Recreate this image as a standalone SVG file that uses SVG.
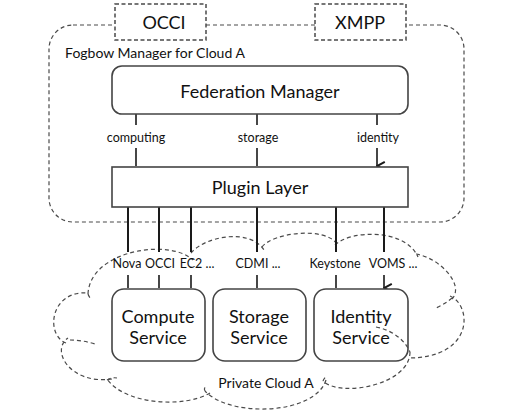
<svg xmlns="http://www.w3.org/2000/svg" width="508" height="418" viewBox="0 0 508 418">
<defs>
<style>
.dash{fill:none;stroke:#4a4a4a;stroke-width:1.2;stroke-dasharray:4 3}
.dbox{fill:#fff;stroke:#4a4a4a;stroke-width:1.5;stroke-dasharray:4 2.5}
.box{fill:#fff;stroke:#444;stroke-width:1.6}
.cn{fill:none;stroke:#1a1a1a;stroke-width:1.6}
.cw{fill:none;stroke:#1a1a1a;stroke-width:2}
text{font-family:Lato,"Open Sans","Liberation Sans",sans-serif;fill:#111;text-anchor:middle}
.big{font-size:18px}
.mid{font-size:14px}
.sm{font-size:12.5px}
</style>
<marker id="ah" markerWidth="12" markerHeight="12" refX="5" refY="9" orient="auto-start-reverse" markerUnits="userSpaceOnUse" viewBox="0 0 10 10">
<path d="M1.5,2.5 L5,9 L8.5,2.5" fill="none" stroke="#1a1a1a" stroke-width="1.7"/>
</marker>
</defs>
<rect width="508" height="418" fill="#fff"/>

<g id="cloud">
<path class="dash" d="M88,294 C90,250 170,238 193,260 M191,253 C205,236 250,228 264,250 M262,247 C272,233 325,226 337,244 M335,245 C350,230 405,228 418,257 M416,254 C440,258 465,285 452,299 M450,296 C472,305 475,358 408,358 M410,352 C410,385 340,398 323,381 M326,380 C315,415 230,418 205,391 M210,393 C185,408 125,405 107,379 M112,379 C70,385 50,350 68,338 M66,343 C45,335 50,290 88,293"/>
<path class="dash" d="M70,340 Q82,340 95,344 M452,298 Q445,304 436,308 M107,380 Q112,377 117,378 M205,391 Q203,388 207,386 M88,294 Q89,297 91,299 M323,381 Q324,378 327,376"/>
</g>

<g id="fogbow">
<rect class="dash" x="49" y="25" width="415" height="197" rx="24"/>
<text class="mid" x="155" y="58">Fogbow Manager for Cloud A</text>
</g>

<g id="occi">
<rect class="dbox" x="115" y="4" width="91" height="36"/>
<text class="big" x="164" y="29">OCCI</text>
</g>
<g id="xmpp">
<rect class="dbox" x="315" y="4" width="91" height="36"/>
<text class="big" x="360" y="29">XMPP</text>
</g>

<g id="connectors">
<path class="cn" d="M136,114 V125 M257,114 V125 M377,114 V125"/>
<path class="cn" d="M136,148 V166 M257,148 V166 M377,148 V166" marker-end="url(#ah)"/>
<path class="cw" d="M128,207 V252 M159,207 V252 M191,207 V252 M257,207 V252 M336,207 V252 M384,207 V252"/>
<path class="cn" d="M128,275 V288 M159,275 V288 M191,275 V288 M257,275 V288 M336,275 V288 M384,275 V288" marker-end="url(#ah)"/>
<text class="sm" x="136" y="142">computing</text>
<text class="sm" x="258" y="142">storage</text>
<text class="sm" x="378" y="142">identity</text>
<text class="sm" x="127" y="268">Nova</text>
<text class="sm" x="160" y="268">OCCI</text>
<text class="sm" x="197" y="268">EC2 ...</text>
<text class="sm" x="258" y="268">CDMI ...</text>
<text class="sm" x="335" y="268">Keystone</text>
<text class="sm" x="393" y="268">VOMS ...</text>
</g>

<g id="federation">
<rect class="box" x="112" y="66" width="296" height="48" rx="10"/>
<text class="big" x="260" y="98">Federation Manager</text>
</g>
<g id="plugin">
<rect class="box" x="112" y="167" width="296" height="40"/>
<text class="big" x="260" y="194">Plugin Layer</text>
</g>
<g id="compute">
<rect class="box" x="112" y="289" width="93" height="72" rx="12"/>
<text class="big" x="158" y="323">Compute</text>
<text class="big" x="158" y="344">Service</text>
</g>
<g id="storage">
<rect class="box" x="213" y="289" width="93" height="72" rx="12"/>
<text class="big" x="259" y="323">Storage</text>
<text class="big" x="259" y="344">Service</text>
</g>
<g id="identity">
<rect class="box" x="314" y="289" width="94" height="72" rx="12"/>
<text class="big" x="361" y="323">Identity</text>
<text class="big" x="361" y="344">Service</text>
</g>
<path class="dash" d="M376,327 C392,330 405,340 410,352"/>
<g id="private">
<text class="mid" x="266" y="388">Private Cloud A</text>
</g>
</svg>
